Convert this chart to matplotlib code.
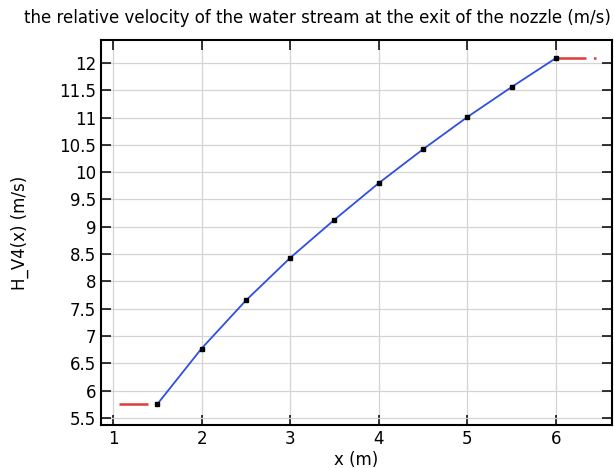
import matplotlib
matplotlib.use("Agg")
from matplotlib import pyplot as plt

x = [1.5, 2.0, 2.5, 3.0, 3.5, 4.0, 4.5, 5.0, 5.5, 6.0]
v = [5.75, 6.77, 7.65, 8.43, 9.13, 9.80, 10.42, 11.01, 11.56, 12.09]

# constant extrapolation outside the interval
x_left = [1.07, 1.40]
x_right = [6.0, 6.45]

fig = plt.figure(figsize=(6.14, 4.68), dpi=100)
ax = fig.add_axes([0.1645, 0.092, 0.832, 0.8225])

ax.plot(x_left, [v[0], v[0]], color="#e03a3a", lw=1.8, dashes=(12, 3, 1, 3))
ax.plot(x_right, [v[-1], v[-1]], color="#e03a3a", lw=1.8, dashes=(12, 3, 1, 3))
ax.plot(x, v, color="#2f4fe0", lw=1.3)
ax.plot(x, v, "s", color="black", ms=3)

ax.set_xlim(0.865, 6.63)
ax.set_ylim(5.37, 12.42)
ax.set_xticks([1, 2, 3, 4, 5, 6])
ax.set_yticks([5.5, 6, 6.5, 7, 7.5, 8, 8.5, 9, 9.5, 10, 10.5, 11, 11.5, 12])
ax.set_yticklabels(["5.5", "6", "6.5", "7", "7.5", "8", "8.5", "9", "9.5",
                    "10", "10.5", "11", "11.5", "12"])
ax.grid(True, color="#d4d4d4", lw=0.9)
ax.tick_params(direction="in", top=True, right=True, length=7, width=1.1,
               labelsize=12, colors="black")
for s in ax.spines.values():
    s.set_linewidth(1.5)

ax.set_xlabel("x (m)", fontsize=12, labelpad=2)
ax.set_ylabel("H_V4(x) (m/s)", fontsize=12, labelpad=22)
fig.text(0.517, 0.962, "the relative velocity of the water stream at the exit of the nozzle (m/s)",
         ha="center", va="center", fontsize=12)

fig.savefig("out.png", dpi=100)
